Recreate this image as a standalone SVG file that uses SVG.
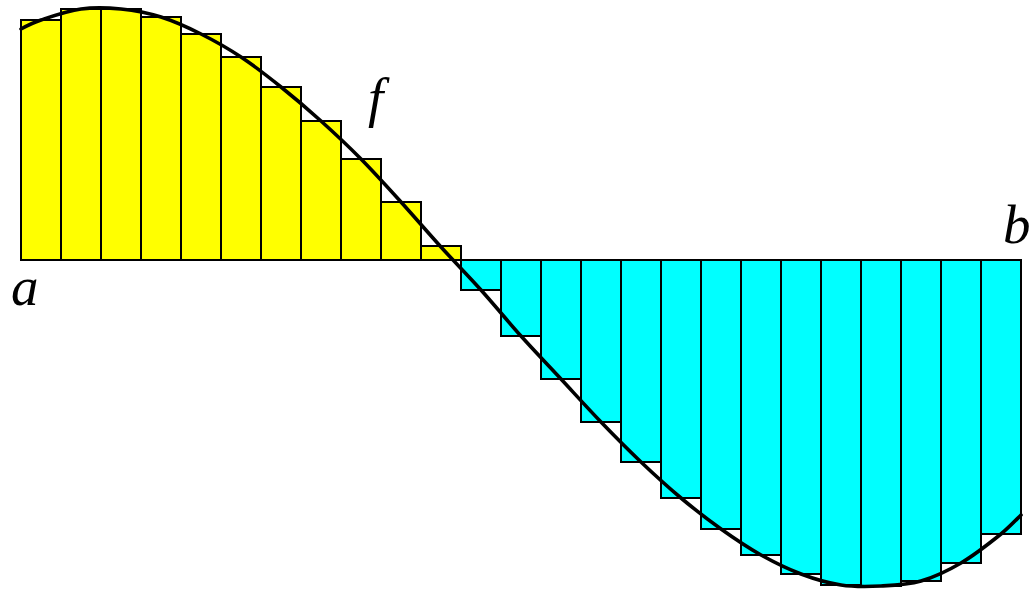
<svg xmlns="http://www.w3.org/2000/svg" width="1032" height="594" viewBox="0 0 1032 594">
<style>
.bar{stroke:#000;stroke-width:2}
.pos{fill:#ffff00}
.neg{fill:#00ffff}
.curve{fill:none;stroke:#000;stroke-width:3.6;stroke-linecap:round;stroke-linejoin:round}
.lbl{font-family:"Liberation Serif","DejaVu Serif",serif;font-style:italic;font-size:55px;fill:#000}
</style>
<rect width="1032" height="594" fill="#fff"/>
<g id="positive-bars" class="bar pos">
<rect x="21" y="20" width="40" height="240"/>
<rect x="61" y="9" width="40" height="251"/>
<rect x="101" y="9" width="40" height="251"/>
<rect x="141" y="17" width="40" height="243"/>
<rect x="181" y="34" width="40" height="226"/>
<rect x="221" y="57" width="40" height="203"/>
<rect x="261" y="87" width="40" height="173"/>
<rect x="301" y="121" width="40" height="139"/>
<rect x="341" y="159" width="40" height="101"/>
<rect x="381" y="202" width="40" height="58"/>
<rect x="421" y="246" width="40" height="14"/>
</g>
<g id="negative-bars" class="bar neg">
<rect x="461" y="260" width="40" height="30"/>
<rect x="501" y="260" width="40" height="76"/>
<rect x="541" y="260" width="40" height="119"/>
<rect x="581" y="260" width="40" height="162"/>
<rect x="621" y="260" width="40" height="202"/>
<rect x="661" y="260" width="40" height="238"/>
<rect x="701" y="260" width="40" height="269"/>
<rect x="741" y="260" width="40" height="295"/>
<rect x="781" y="260" width="40" height="314"/>
<rect x="821" y="260" width="40" height="325"/>
<rect x="861" y="260" width="40" height="326"/>
<rect x="901" y="260" width="40" height="321"/>
<rect x="941" y="260" width="40" height="303"/>
<rect x="981" y="260" width="40" height="274"/>
</g>
<g id="axis">
<line x1="21" y1="260" x2="1021" y2="260" stroke="#000" stroke-width="2"/>
</g>
<g id="curve-f">
<path class="curve" d="M21,29 C27.7,25.3 34.3,22.2 41,20 C54.3,15.56 67.7,10.83 81,9 C94.3,7.17 107.7,7.67 121,9 C134.3,10.33 147.7,12.83 161,17 C174.3,21.17 187.7,27.33 201,34 C214.3,40.67 227.7,48.17 241,57 C254.3,65.83 267.7,76.33 281,87 C294.3,97.67 307.7,109 321,121 C334.3,133 347.7,145.5 361,159 C374.3,172.5 387.7,187.33 401,202 C414.3,216.67 427.7,232.33 441,247 C454.3,261.67 467.7,275.17 481,290 C494.3,304.83 507.7,321.17 521,336 C534.3,350.83 547.7,364.67 561,379 C574.3,393.33 587.7,408.17 601,422 C614.3,435.83 627.7,449.33 641,462 C654.3,474.67 667.7,486.83 681,498 C694.3,509.17 707.7,519.5 721,529 C734.3,538.5 747.7,547.5 761,555 C774.3,562.5 787.7,569 801,574 C814.3,579 827.7,583 841,585 C854.3,587 867.7,586.67 881,586 C894.3,585.33 907.7,584.83 921,581 C934.3,577.17 947.7,570.83 961,563 C974.3,555.17 987.7,544.67 1001,534 C1007.67,528.67 1014.33,521.67 1021,515"/>
</g>
<g id="labels">
<text class="lbl" x="11" y="305">a</text>
<text class="lbl" x="1003" y="243">b</text>
<text class="lbl" x="368" y="116">f</text>
</g>
</svg>
